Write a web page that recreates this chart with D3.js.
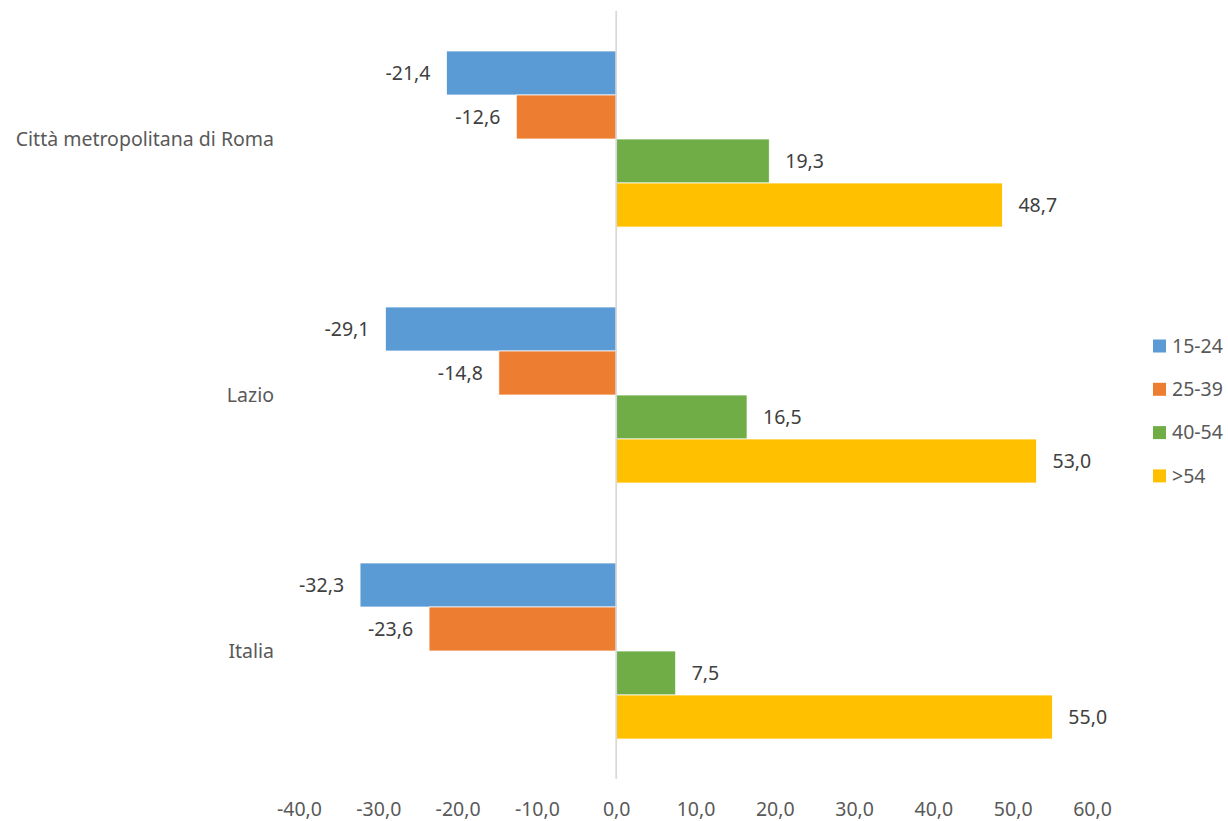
<!DOCTYPE html>
<html>
<head>
<meta charset="utf-8">
<script src="https://cdn.jsdelivr.net/npm/d3@7"></script>
<style>
  body { margin: 0; background: #fff; }
  text { font-family: "Noto Sans", sans-serif; }
</style>
</head>
<body>
<div id="chart"></div>
<script>
const categories = ["Città metropolitana di Roma", "Lazio", "Italia"];
const seriesNames = ["15-24", "25-39", "40-54", ">54"];
const values1524 = [-21.4, -29.1, -32.3];
const values2539 = [-12.6, -14.8, -23.6];
const values4054 = [19.3, 16.5, 7.5];
const valuesOver54 = [48.7, 53.0, 55.0];
const xTicks = [-40, -30, -20, -10, 0, 10, 20, 30, 40, 50, 60];
const colors = ["#5B9BD5", "#ED7D31", "#70AD47", "#FFC000"];

const seriesValues = [values1524, values2539, values4054, valuesOver54];

const W = 1228, H = 821;
const fontSize = 19.5;
const fmt = v => d3.format(".1f")(v).replace(".", ",").replace("−", "-");

const svg = d3.select("#chart").append("svg")
  .attr("width", W)
  .attr("height", H);

// scales
const x = d3.scaleLinear()
  .domain([-40, 60])
  .range([299, 1092]);

const y0 = d3.scaleBand()
  .domain(categories)
  .range([11, 779])
  .paddingInner(0.3125)
  .paddingOuter(0.15625);

const y1 = d3.scaleBand()
  .domain(seriesNames)
  .range([0, y0.bandwidth()]);

// flatten into rows
const rows = [];
categories.forEach((c, i) => {
  seriesNames.forEach((s, j) => {
    rows.push({ cat: c, series: s, value: seriesValues[j][i], color: colors[j] });
  });
});

// bars
svg.append("g")
  .selectAll("rect")
  .data(rows)
  .join("rect")
  .attr("x", d => x(Math.min(0, d.value)))
  .attr("y", d => y0(d.cat) + y1(d.series))
  .attr("width", d => Math.abs(x(d.value) - x(0)))
  .attr("height", y1.bandwidth())
  .attr("fill", d => d.color)
  .attr("stroke", "#fff")
  .attr("stroke-width", 0.75);

// zero line
svg.append("line")
  .attr("x1", x(0)).attr("x2", x(0))
  .attr("y1", 11).attr("y2", 779)
  .attr("stroke", "#D9D9D9")
  .attr("stroke-width", 1.75);

// data labels
svg.append("g")
  .selectAll("text")
  .data(rows)
  .join("text")
  .attr("x", d => d.value < 0 ? x(d.value) - 16 : x(d.value) + 16)
  .attr("y", d => y0(d.cat) + y1(d.series) + y1.bandwidth() / 2)
  .attr("dy", "0.35em")
  .attr("text-anchor", d => d.value < 0 ? "end" : "start")
  .attr("fill", "#404040")
  .style("font-size", fontSize + "px")
  .text(d => fmt(d.value));

// category labels
svg.append("g")
  .selectAll("text")
  .data(categories)
  .join("text")
  .attr("x", 274)
  .attr("y", d => y0(d) + y0.bandwidth() / 2)
  .attr("dy", "0.35em")
  .attr("text-anchor", "end")
  .attr("fill", "#595959")
  .style("font-size", fontSize + "px")
  .text(d => d);

// x axis
const xAxis = svg.append("g")
  .attr("transform", "translate(0,796)")
  .call(d3.axisBottom(x).tickValues(xTicks).tickSize(0).tickPadding(0).tickFormat(fmt));
xAxis.select(".domain").remove();
xAxis.selectAll("text")
  .attr("y", 0)
  .attr("dy", "0.35em")
  .attr("transform", "translate(0,13.5)")
  .attr("fill", "#595959")
  .style("font-family", "'Noto Sans', sans-serif")
  .style("font-size", fontSize + "px");

// legend
const legend = svg.append("g")
  .selectAll("g")
  .data(seriesNames)
  .join("g")
  .attr("transform", (d, i) => `translate(1153,${346 + i * 43.3})`);

legend.append("rect")
  .attr("x", 0).attr("y", -6.5)
  .attr("width", 13).attr("height", 13)
  .attr("fill", (d, i) => colors[i]);

legend.append("text")
  .attr("x", 19)
  .attr("dy", "0.35em")
  .attr("fill", "#595959")
  .style("font-size", fontSize + "px")
  .text(d => d);
</script>
</body>
</html>
